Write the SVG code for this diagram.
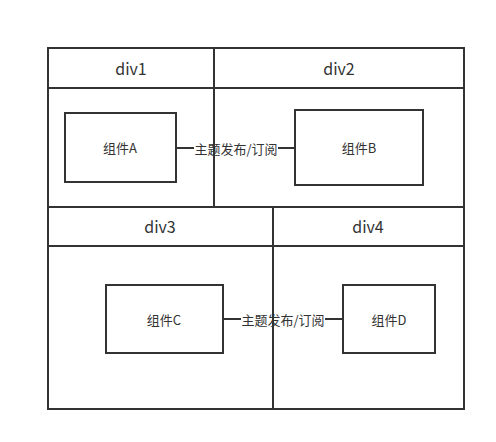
<svg xmlns="http://www.w3.org/2000/svg" width="496" height="442" viewBox="0 0 496 442">
<style>
.box{fill:#fff;stroke:#333;stroke-width:2}
.ln{stroke:#333;stroke-width:2;fill:none}
.t{font-family:"Noto Sans CJK SC","Microsoft YaHei",sans-serif;fill:#333;text-anchor:middle;dominant-baseline:central}
.h{font-size:16px}
.s{font-size:13px}
.lb{fill:#fff}
</style>
<rect width="496" height="442" fill="#fff"/>
<g id="outer">
<rect class="box" x="48" y="48" width="416" height="361"/>
</g>
<g id="connectors">
<line class="ln" x1="176" y1="148" x2="295" y2="148"/>
<rect class="lb" x="194" y="139" width="84" height="18"/>
<text class="t s" x="236" y="148">主题发布/订阅</text>
<line class="ln" x1="223" y1="319" x2="343" y2="319"/>
<rect class="lb" x="241" y="310" width="84" height="18"/>
<text class="t s" x="283" y="319">主题发布/订阅</text>
</g>
<g id="div1">
<line class="ln" x1="48" y1="88" x2="464" y2="88"/>
<text class="t h" x="131" y="68">div1</text>
</g>
<g id="div2">
<line class="ln" x1="214" y1="48" x2="214" y2="207"/>
<text class="t h" x="339" y="68">div2</text>
</g>
<g id="div3">
<line class="ln" x1="48" y1="207" x2="464" y2="207"/>
<line class="ln" x1="48" y1="246" x2="464" y2="246"/>
<text class="t h" x="160" y="226">div3</text>
</g>
<g id="div4">
<line class="ln" x1="273" y1="207" x2="273" y2="409"/>
<text class="t h" x="368" y="226">div4</text>
</g>
<g id="compA">
<rect class="box" x="65" y="113" width="111" height="69"/>
<text class="t s" x="120" y="147">组件A</text>
</g>
<g id="compB">
<rect class="box" x="295" y="110" width="128" height="75"/>
<text class="t s" x="359" y="147">组件B</text>
</g>
<g id="compC">
<rect class="box" x="106" y="285" width="117" height="68"/>
<text class="t s" x="164" y="319">组件C</text>
</g>
<g id="compD">
<rect class="box" x="343" y="285" width="92" height="68"/>
<text class="t s" x="389" y="319">组件D</text>
</g>
</svg>
